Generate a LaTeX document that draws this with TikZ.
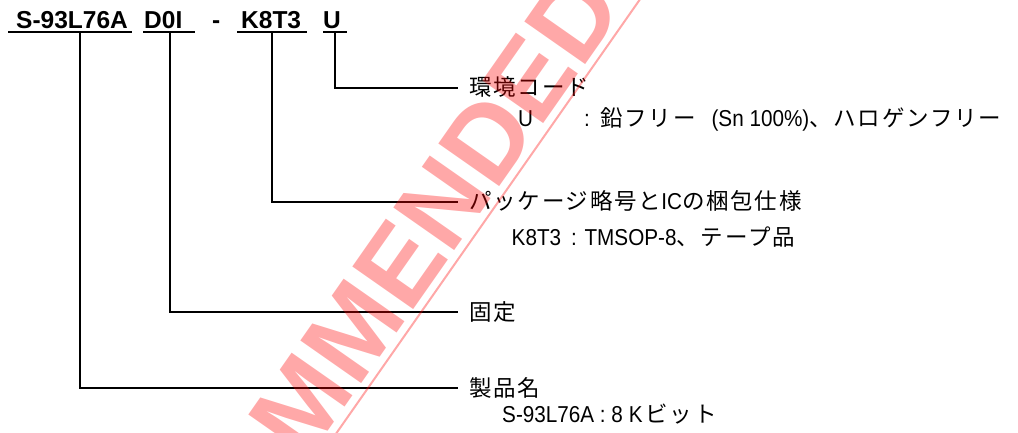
\documentclass[tikz,border=0pt]{standalone}
\usepackage{fontspec}
\setmainfont[FakeStretch=0.9]{Liberation Sans}
\newfontfamily\titlefont{Liberation Sans}
\newfontfamily\wmfont{Liberation Sans}
\newfontfamily\jp[LetterSpace=8]{Noto Sans CJK JP}
\newcommand\J[1]{{\jp\fontsize{22.5}{26}\selectfont #1}}
\begin{document}
\begin{tikzpicture}[x=1pt,y=1pt,
  ttl/.style={anchor=base west, inner sep=0pt, font=\titlefont\bfseries\fontsize{24.5}{28}\selectfont},
  uline/.style={line width=1.8pt},
  conn/.style={line width=1.6pt},
  lbl/.style={anchor=west, inner xsep=11pt, inner ysep=0pt, text height=17pt, text depth=1pt, font=\fontsize{23}{27}\selectfont},
  sub/.style={anchor=base west, inner sep=0pt, font=\fontsize{23}{27}\selectfont},
  wm/.style={inner sep=0pt, text=red, opacity=0.34, font=\wmfont\bfseries\fontsize{108}{108}\selectfont},
  wmline/.style={draw=red, opacity=0.34, line width=2pt}]
\useasboundingbox (0,0) rectangle (1018,-433);
% title
\node[ttl] (t1) at (16,-29) {S-93L76A};
\node[ttl] (t2) at (144,-29) {D0I};
\node[ttl] (t0) at (212,-29) {-};
\node[ttl] (t3) at (241,-29) {K8T3};
\node[ttl] (t4) at (323,-29) {U};
\draw[uline] (8,-32) -- (132,-32);
\draw[uline] (143,-32) -- (195,-32);
\draw[uline] (237,-32) -- (307,-32);
\draw[uline] (323,-32) -- (347,-32);
\coordinate (u1) at (80,-32);
\coordinate (u2) at (170,-32);
\coordinate (u3) at (272,-32);
\coordinate (u4) at (335,-32);
% labels
\node[lbl] (l1) at (458,-88) {\J{環境コード}};
\node[lbl] (l2) at (458,-202) {\J{パッケージ略号と}IC\J{の梱包仕様}};
\node[lbl] (l3) at (458,-312) {\J{固定}};
\node[lbl] (l4) at (458,-388) {\J{製品名}};
\node[sub] (d1) at (518,-127) {\makebox[66pt][l]{U}\makebox[16pt][l]{:}\J{鉛フリー}\hspace{16pt}(Sn 100\%)\J{、ハロゲンフリー}};
\node[sub] (d2) at (511.5,-245) {K8T3\hspace{10pt}: TMSOP-8\J{、テープ品}};
\node[sub] (d4) at (502,-422) {S-93L76A : 8 K\hspace{3pt}\J{ビット}};
% connectors
\draw[conn] (u4) |- (l1);
\draw[conn] (u3) |- (l2);
\draw[conn] (u2) |- (l3);
\draw[conn] (u1) |- (l4);
% watermark
\begin{scope}
\clip (0,0) rectangle (1018,-433);
\node[wm, rotate=55, anchor=base east] (wm) at (626,-6) {MMENDED};
\coordinate (wa) at (657,25);
\coordinate (wb) at (318.6,-458.6);
\draw[wmline] (wa) -- (wb);
\end{scope}
\end{tikzpicture}
\end{document}
